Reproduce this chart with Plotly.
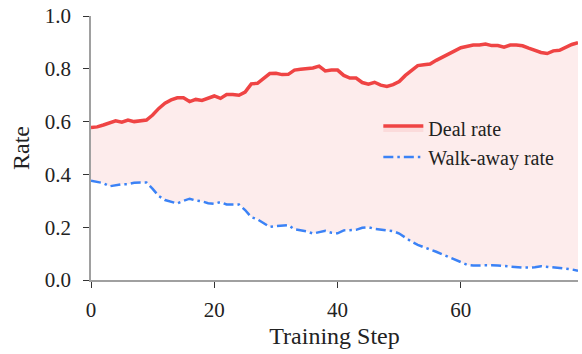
import plotly.graph_objects as go

steps = list(range(80))

deal_rate = [
    0.578, 0.580, 0.587, 0.595, 0.603, 0.598, 0.606, 0.600, 0.603, 0.606,
    0.625, 0.650, 0.670, 0.682, 0.690, 0.690, 0.676, 0.684, 0.680, 0.690,
    0.697, 0.688, 0.703, 0.703, 0.700, 0.712, 0.743, 0.745, 0.762, 0.782,
    0.783, 0.778, 0.779, 0.795, 0.798, 0.799, 0.803, 0.810, 0.792, 0.795,
    0.795, 0.775, 0.765, 0.765, 0.748, 0.742, 0.749, 0.738, 0.733, 0.740,
    0.752, 0.775, 0.795, 0.812, 0.815, 0.818, 0.832, 0.845, 0.855, 0.868,
    0.880, 0.885, 0.890, 0.890, 0.894, 0.888, 0.888, 0.882, 0.890, 0.890,
    0.887, 0.878, 0.870, 0.862, 0.858, 0.868, 0.870, 0.882, 0.892, 0.899,
]

walk_away_rate = [
    0.376, 0.372, 0.367, 0.355, 0.360, 0.363, 0.363, 0.368, 0.369, 0.369,
    0.345, 0.318, 0.303, 0.296, 0.290, 0.300, 0.308, 0.301, 0.298, 0.291,
    0.289, 0.295, 0.286, 0.286, 0.286, 0.265, 0.238, 0.230, 0.215, 0.201,
    0.204, 0.207, 0.208, 0.192, 0.188, 0.184, 0.176, 0.182, 0.186, 0.179,
    0.177, 0.188, 0.190, 0.190, 0.198, 0.200, 0.194, 0.191, 0.190, 0.185,
    0.176, 0.160, 0.145, 0.133, 0.125, 0.116, 0.107, 0.097, 0.087, 0.077,
    0.068, 0.058, 0.055, 0.056, 0.056, 0.056, 0.055, 0.053, 0.050, 0.048,
    0.047, 0.047, 0.048, 0.052, 0.050, 0.049, 0.047, 0.043, 0.040, 0.035,
]

x_ticks = [0, 20, 40, 60]
y_ticks = [0.0, 0.2, 0.4, 0.6, 0.8, 1.0]

RED = "#ef4444"
BLUE = "#3b82f6"
FONT = "Liberation Serif, Times New Roman, Times, serif"
INK = "#222222"

fig = go.Figure()

# Walk-away first so the deal-rate fill reaches down to it
fig.add_trace(go.Scatter(
    x=steps, y=walk_away_rate, mode="lines", name="Walk-away rate",
    line=dict(color=BLUE, width=2.5, dash="10px,4px,2.5px,4px"),
    legendrank=2,
))
fig.add_trace(go.Scatter(
    x=steps, y=deal_rate, mode="lines", name="Deal rate",
    line=dict(color=RED, width=3.5),
    fill="tonexty", fillcolor="rgba(239,68,68,0.1)",
    legendrank=1,
))

axis_common = dict(
    showgrid=False, zeroline=False, showline=True,
    linecolor="#a0a0a0", linewidth=1.5,
    ticks="outside", ticklen=6, tickwidth=1.2, tickcolor="#333333",
    tickfont=dict(family=FONT, size=21, color=INK),
)

fig.update_xaxes(
    range=[0, 79], tickvals=x_ticks, ticklabelstandoff=4,
    title=dict(text="Training Step", font=dict(family=FONT, size=24, color=INK), standoff=6),
    **axis_common,
)
fig.update_yaxes(
    range=[0, 1.0], tickvals=y_ticks, tickformat=".1f", ticklabelstandoff=8,
    title=dict(text="Rate", font=dict(family=FONT, size=24, color=INK), standoff=8),
    **axis_common,
)

fig.update_layout(
    width=582, height=354,
    margin=dict(l=91, r=4, t=12, b=74),
    plot_bgcolor="white", paper_bgcolor="white",
    font=dict(family=FONT, color=INK),
    legend=dict(
        x=0.59, y=0.65, xanchor="left", yanchor="top",
        traceorder="normal",
        bgcolor="rgba(0,0,0,0)", font=dict(family=FONT, size=20, color=INK),
        tracegroupgap=2, itemwidth=40,
    ),
    showlegend=True,
)

fig.write_html("out.html")
